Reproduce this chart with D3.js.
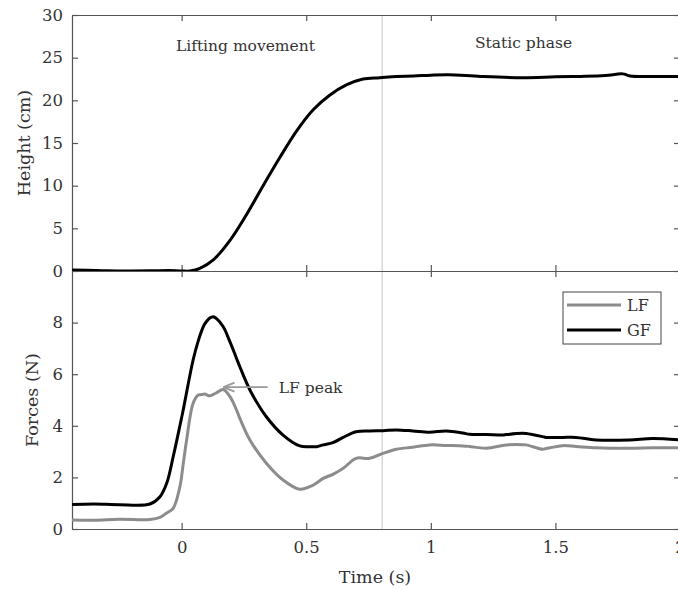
<!DOCTYPE html>
<html>
<head>
<meta charset="utf-8">
<script src="https://cdn.jsdelivr.net/npm/d3@7"></script>
<style>
  html, body { margin: 0; padding: 0; background: #fff; }
  svg { display: block; }
  .axis path, .axis line { stroke: #555; stroke-width: 1.2; }
  .axis text { font-family: "DejaVu Serif", serif; font-size: 16.5px; fill: #333; }
  .lbl { font-family: "DejaVu Serif", serif; fill: #333; }
</style>
</head>
<body>
<svg id="chart" width="678" height="590"></svg>
<script>
// Height of the lifted object (cm) over time (s)
const heightTime = [-0.44, -0.38, -0.30, -0.20, -0.12, -0.05, 0.00, 0.033, 0.073, 0.127, 0.194, 0.26, 0.327, 0.394, 0.461, 0.528, 0.594, 0.661, 0.728, 0.795, 0.862, 0.93, 1.0, 1.07, 1.2, 1.37, 1.5, 1.6, 1.7, 1.77, 1.8, 1.9, 2.0];
const heightCm   = [0.12, 0.10, 0.02, 0.0, 0.02, 0.06, 0.0, 0.0, 0.3, 1.3, 3.6, 6.6, 10.0, 13.3, 16.4, 18.9, 20.6, 21.8, 22.5, 22.65, 22.8, 22.85, 22.95, 23.0, 22.8, 22.65, 22.75, 22.8, 22.9, 23.1, 22.85, 22.8, 22.8];

// Load force (LF) and grip force (GF), N
const forceTime = [-0.44, -0.35, -0.25, -0.127, -0.087, -0.06, -0.034, -0.007, 0.006, 0.02, 0.046, 0.067, 0.087, 0.093, 0.113, 0.127, 0.14, 0.167, 0.194, 0.22, 0.234, 0.274, 0.34, 0.407, 0.474, 0.514, 0.541, 0.568, 0.607, 0.648, 0.70, 0.755, 0.808, 0.862, 0.928, 0.995, 1.062, 1.129, 1.155, 1.222, 1.289, 1.303, 1.369, 1.383, 1.449, 1.463, 1.529, 1.583, 1.663, 1.797, 1.89, 2.0];
const lfValues  = [0.35, 0.34, 0.38, 0.37, 0.45, 0.62, 0.80, 1.64, 2.5, 3.45, 4.87, 5.19, 5.22, 5.23, 5.16, 5.22, 5.28, 5.41, 5.13, 4.62, 4.28, 3.45, 2.55, 1.90, 1.54, 1.64, 1.78, 1.96, 2.12, 2.35, 2.74, 2.74, 2.93, 3.09, 3.17, 3.26, 3.24, 3.22, 3.2, 3.13, 3.24, 3.26, 3.27, 3.26, 3.09, 3.12, 3.23, 3.2, 3.15, 3.13, 3.15, 3.15];
const gfValues  = [0.95, 0.97, 0.94, 0.97, 1.25, 1.77, 2.8, 4.0, 4.6, 5.3, 6.55, 7.3, 7.84, 7.95, 8.18, 8.23, 8.15, 7.84, 7.25, 6.62, 6.28, 5.39, 4.35, 3.64, 3.22, 3.19, 3.19, 3.26, 3.35, 3.55, 3.77, 3.80, 3.81, 3.84, 3.80, 3.75, 3.80, 3.72, 3.67, 3.66, 3.64, 3.66, 3.71, 3.70, 3.58, 3.55, 3.55, 3.55, 3.45, 3.45, 3.51, 3.45];

const seriesNames = ["LF", "GF"];
const seriesColors = ["#8c8c8c", "#000000"];

const xTicks = [0, 0.5, 1, 1.5, 2];
const heightTicks = [0, 5, 10, 15, 20, 25, 30];
const forceTicks = [0, 2, 4, 6, 8];

const phaseBoundary = 0.805;
const phaseLabels = [
  { text: "Lifting movement", t: 0.256, v: 25.8 },
  { text: "Static phase", t: 1.372, v: 26.1 }
];
const peakNote = { text: "LF peak", tipT: 0.172, tailT: 0.345, v: 5.5, textT: 0.39 };

const svg = d3.select("#chart");
const L = 72, R = 680, T1 = 15, B1 = 271, T2 = 271, B2 = 529;

const x = d3.scaleLinear().domain([-0.44, 2]).range([L, R]);
const yH = d3.scaleLinear().domain([0, 30]).range([B1, T1]);
const yF = d3.scaleLinear().domain([0, 10]).range([B2, T2]);

const defs = svg.append("defs");
defs.append("clipPath").attr("id", "clipTop").append("rect")
  .attr("x", L).attr("y", T1).attr("width", R - L).attr("height", B1 - T1);
defs.append("clipPath").attr("id", "clipBot").append("rect")
  .attr("x", L).attr("y", T2).attr("width", R - L).attr("height", B2 - T2);
defs.append("marker").attr("id", "arrowHead")
  .attr("viewBox", "0 0 10 10").attr("refX", 9).attr("refY", 5)
  .attr("markerWidth", 7).attr("markerHeight", 7).attr("orient", "auto")
  .append("path").attr("d", "M0,1 L10,5 L0,9").attr("fill", "none")
  .attr("stroke", "#999").attr("stroke-width", 1.6);

// phase boundary spanning both panels
svg.append("line")
  .attr("x1", x(phaseBoundary)).attr("x2", x(phaseBoundary))
  .attr("y1", T1).attr("y2", B2)
  .attr("stroke", "#d9d9d9").attr("stroke-width", 1.5);

function frame(yScale, top, bottom, ticks, label) {
  svg.append("g").attr("class", "axis").attr("transform", `translate(0,${bottom})`)
    .call(d3.axisBottom(x).tickValues(xTicks).tickSizeInner(-6).tickSizeOuter(0).tickFormat(label ? d3.format("") : "").tickPadding(12));
  svg.append("g").attr("class", "axis").attr("transform", `translate(0,${top})`)
    .call(d3.axisTop(x).tickValues(xTicks).tickSizeInner(-6).tickSizeOuter(0).tickFormat(""));
  svg.append("g").attr("class", "axis").attr("transform", `translate(${L},0)`)
    .call(d3.axisLeft(yScale).tickValues(ticks).tickSizeInner(-6).tickSizeOuter(0).tickPadding(9));
  svg.append("g").attr("class", "axis").attr("transform", `translate(${R},0)`)
    .call(d3.axisRight(yScale).tickValues(ticks).tickSizeInner(-6).tickSizeOuter(0).tickFormat(""));
}
frame(yH, T1, B1, heightTicks, false);
frame(yF, T2, B2, forceTicks, true);

const curve = d3.curveCatmullRom.alpha(0.5);

// Height trace
svg.append("path")
  .datum(heightTime.map((t, i) => [t, heightCm[i]]))
  .attr("clip-path", "url(#clipTop)")
  .attr("fill", "none").attr("stroke", "#000").attr("stroke-width", 3)
  .attr("stroke-linejoin", "round")
  .attr("d", d3.line().x(d => x(d[0])).y(d => yH(d[1])).curve(curve));

// Force traces
const forceSeries = [lfValues, gfValues];
forceSeries.forEach((vals, k) => {
  svg.append("path")
    .datum(forceTime.map((t, i) => [t, vals[i]]))
    .attr("clip-path", "url(#clipBot)")
    .attr("fill", "none").attr("stroke", seriesColors[k]).attr("stroke-width", 3)
    .attr("stroke-linejoin", "round")
    .attr("d", d3.line().x(d => x(d[0])).y(d => yF(d[1])).curve(curve));
});

// phase labels
phaseLabels.forEach(p => {
  svg.append("text").attr("class", "lbl")
    .attr("x", x(p.t)).attr("y", yH(p.v))
    .attr("text-anchor", "middle").attr("font-size", 15.5)
    .attr("fill", "#222").text(p.text);
});

// LF peak annotation
svg.append("line")
  .attr("x1", x(peakNote.tailT)).attr("x2", x(peakNote.tipT))
  .attr("y1", yF(peakNote.v)).attr("y2", yF(peakNote.v))
  .attr("stroke", "#999").attr("stroke-width", 1.6)
  .attr("marker-end", "url(#arrowHead)");
svg.append("text").attr("class", "lbl")
  .attr("x", x(peakNote.textT)).attr("y", yF(peakNote.v))
  .attr("dy", "0.35em").attr("font-size", 15.5).attr("fill", "#222")
  .text(peakNote.text);

// axis titles
svg.append("text").attr("class", "lbl")
  .attr("transform", `translate(30,${(T1 + B1) / 2}) rotate(-90)`)
  .attr("text-anchor", "middle").attr("font-size", 17.5).text("Height (cm)");
svg.append("text").attr("class", "lbl")
  .attr("transform", `translate(38,${(T2 + B2) / 2}) rotate(-90)`)
  .attr("text-anchor", "middle").attr("font-size", 17.5).text("Forces (N)");
svg.append("text").attr("class", "lbl")
  .attr("x", (L + R) / 2 - 1).attr("y", 583)
  .attr("text-anchor", "middle").attr("font-size", 17.5).text("Time (s)");

// legend
const lg = svg.append("g").attr("transform", "translate(563,292)");
lg.append("rect").attr("width", 98).attr("height", 52)
  .attr("fill", "#fff").attr("stroke", "#444").attr("stroke-width", 1);
seriesNames.forEach((name, i) => {
  const yy = 13 + i * 25;
  lg.append("line").attr("x1", 4).attr("x2", 58).attr("y1", yy).attr("y2", yy)
    .attr("stroke", seriesColors[i]).attr("stroke-width", 3);
  lg.append("text").attr("class", "lbl").attr("x", 64).attr("y", yy)
    .attr("dy", "0.35em").attr("font-size", 16).attr("fill", "#222").text(name);
});
</script>
</body>
</html>
